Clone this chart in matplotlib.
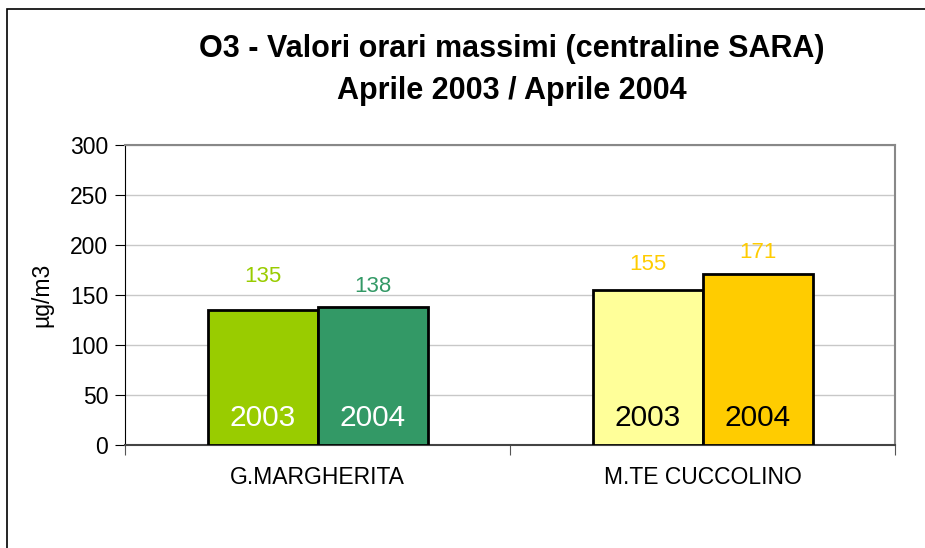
import numpy as np
import matplotlib
matplotlib.use('Agg')
import matplotlib.pyplot as plt
from matplotlib.patches import Rectangle

plt.rcParams['font.family'] = ['Liberation Sans', 'DejaVu Sans']

# data
stations = ['G.MARGHERITA', 'M.TE CUCCOLINO']
years = ['2003', '2004']
values_2003 = [135, 155]
values_2004 = [138, 171]

# per-bar styling
colors_2003 = ['#99CC00', '#FFFF99']
colors_2004 = ['#339966', '#FFCC00']
value_colors_2003 = ['#99CC00', '#FFCC00']
value_colors_2004 = ['#339966', '#FFCC00']
year_text_colors = ['white', 'black']
label_gap_2003 = [34, 25]
label_gap_2004 = [20, 21]

fig = plt.figure(figsize=(9.25, 5.48), dpi=100)
W, H = 925, 548
ax = fig.add_axes([125 / W, 103 / H, 770 / W, 300 / H])

centers = np.arange(len(stations)) + 0.5
width = 110 / 385

for i, c in enumerate(centers):
    for x, v, col, vcol, gap, yr in [
        (c - width / 2, values_2003[i], colors_2003[i], value_colors_2003[i], label_gap_2003[i], years[0]),
        (c + width / 2, values_2004[i], colors_2004[i], value_colors_2004[i], label_gap_2004[i], years[1]),
    ]:
        ax.bar(x, v, width=width, color=col, edgecolor='black', linewidth=2, zorder=3)
        ax.text(x, v + gap, str(v), ha='center', va='center', color=vcol, fontsize=16, zorder=4)
        ax.text(x, 27, yr, ha='center', va='center', color=year_text_colors[i], fontsize=21.5, zorder=4)

ax.set_xlim(0, len(stations))
ax.set_ylim(0, 300)
ax.set_yticks(np.arange(0, 301, 50))
ax.yaxis.grid(True, color='#C8C8C8', linewidth=1)
ax.set_axisbelow(True)

ax.set_xticks(np.arange(len(stations) + 1))
ax.set_xticklabels([])
ax.set_xticks(centers, minor=True)
ax.set_xticklabels(stations, minor=True, fontsize=16.5)
ax.tick_params(axis='x', which='minor', length=0, pad=15)
ax.tick_params(axis='x', which='major', length=7, direction='out', color='#555555')
ax.tick_params(axis='y', length=7, direction='out', labelsize=16.5, pad=5)

for s in ['top', 'right']:
    ax.spines[s].set_color('#888888')
    ax.spines[s].set_linewidth(1.5)
ax.spines['left'].set_color('black')
ax.spines['bottom'].set_color('#444444')
ax.spines['bottom'].set_linewidth(1.5)

ax.set_ylabel('µg/m3', fontsize=16.5, labelpad=12)

fig.text(512 / W, 1 - 70 / H,
         'O3 - Valori orari massimi (centraline SARA)\nAprile 2003 / Aprile 2004',
         ha='center', va='center', fontsize=22, fontweight='bold', linespacing=1.5)

# outer chart frame (only left and top visible in the reference)
fig.patches.append(Rectangle((7 / W, -0.1), 1.2, 1 - 9 / H + 0.1, transform=fig.transFigure,
                             fill=False, edgecolor='black', linewidth=1.2))

fig.savefig('out.png', dpi=100)
